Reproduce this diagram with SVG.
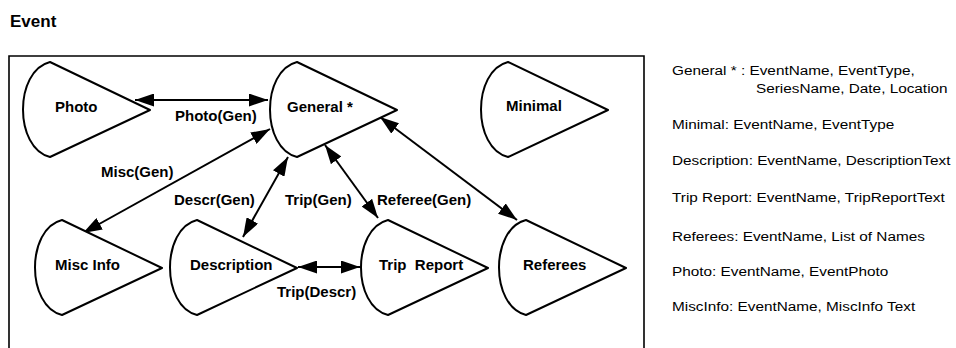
<svg xmlns="http://www.w3.org/2000/svg" width="956" height="348" viewBox="0 0 956 348">
<style>
.bg{fill:#fff}
.frame{fill:none;stroke:#000;stroke-width:1.6}
.node path{fill:#fff;stroke:#000;stroke-width:2;stroke-linejoin:round}
.lbl{font-family:"Liberation Sans",Arial,sans-serif;font-weight:bold;font-size:15px;fill:#000}
.title{font-family:"Liberation Sans",Arial,sans-serif;font-weight:bold;font-size:17px;fill:#000}
.leg{font-family:"Liberation Sans",Arial,sans-serif;font-size:13.5px;fill:#000}
.conn line{stroke:#000;stroke-width:2;marker-start:url(#ah);marker-end:url(#ah)}
</style>
<defs>
<marker id="ah" markerUnits="userSpaceOnUse" markerWidth="20" markerHeight="13" viewBox="0 0 20 13" refX="19" refY="6.5" orient="auto-start-reverse">
<path d="M0,0 L19,6.5 L0,13 Z" fill="#000"/>
</marker>
<path id="cone" d="M27,-48 L127,0 L27,47 C-9,38 -9,-39 27,-48 Z"/>
</defs>
<rect class="bg" x="0" y="0" width="956" height="348"/>
<text class="title" x="10" y="27">Event</text>
<path class="frame" d="M9,360 L9,56 L644,56 L644,360"/>

<g id="connectors" class="conn">
<line x1="135" y1="100" x2="268" y2="100"/>
<line x1="270" y1="129" x2="83" y2="233"/>
<line x1="288" y1="157" x2="243" y2="237"/>
<line x1="325" y1="145" x2="378" y2="218"/>
<line x1="380" y1="117" x2="517" y2="220"/>
<line x1="298" y1="267" x2="360" y2="267"/>
</g>

<g id="photo" class="node"><path d="M27,-48 L127,0 L27,47 C-9,38 -9,-39 27,-48 Z" transform="translate(23,110)"/><text class="lbl" x="55" y="112">Photo</text></g>
<g id="general" class="node"><path d="M27,-48 L127,0 L27,47 C-9,38 -9,-39 27,-48 Z" transform="translate(270,110)"/><text class="lbl" x="287" y="112">General *</text></g>
<g id="minimal" class="node"><path d="M27,-48 L127,0 L27,47 C-9,38 -9,-39 27,-48 Z" transform="translate(481,110)"/><text class="lbl" x="506" y="111">Minimal</text></g>
<g id="miscinfo" class="node"><path d="M27,-48 L127,0 L27,47 C-9,38 -9,-39 27,-48 Z" transform="translate(35,268)"/><text class="lbl" x="55" y="270">Misc Info</text></g>
<g id="description" class="node"><path d="M27,-48 L127,0 L27,47 C-9,38 -9,-39 27,-48 Z" transform="translate(170,268)"/><text class="lbl" x="190" y="270">Description</text></g>
<g id="tripreport" class="node"><path d="M27,-48 L127,0 L27,47 C-9,38 -9,-39 27,-48 Z" transform="translate(361,268)"/><text class="lbl" x="379" y="270" style="white-space:pre">Trip  Report</text></g>
<g id="referees" class="node"><path d="M27,-48 L127,0 L27,47 C-9,38 -9,-39 27,-48 Z" transform="translate(499,268)"/><text class="lbl" x="523" y="270">Referees</text></g>

<g id="connector-labels">
<text class="lbl" x="175" y="121">Photo(Gen)</text>
<text class="lbl" x="101" y="177">Misc(Gen)</text>
<text class="lbl" x="174" y="205">Descr(Gen)</text>
<text class="lbl" x="285" y="205">Trip(Gen)</text>
<text class="lbl" x="377" y="205">Referee(Gen)</text>
<text class="lbl" x="277" y="297">Trip(Descr)</text>
</g>

<g id="legend" transform="translate(672,0) scale(1.135,1)">
<text class="leg" x="0" y="75.5">General * : EventName, EventType,</text>
<text class="leg" x="74" y="93">SeriesName, Date, Location</text>
<text class="leg" x="0" y="129.5">Minimal: EventName, EventType</text>
<text class="leg" x="0" y="165.5">Description: EventName, DescriptionText</text>
<text class="leg" x="0" y="202">Trip Report: EventName, TripReportText</text>
<text class="leg" x="0" y="241">Referees: EventName, List of Names</text>
<text class="leg" x="0" y="276">Photo: EventName, EventPhoto</text>
<text class="leg" x="0" y="311">MiscInfo: EventName, MiscInfo Text</text>
</g>
</svg>
